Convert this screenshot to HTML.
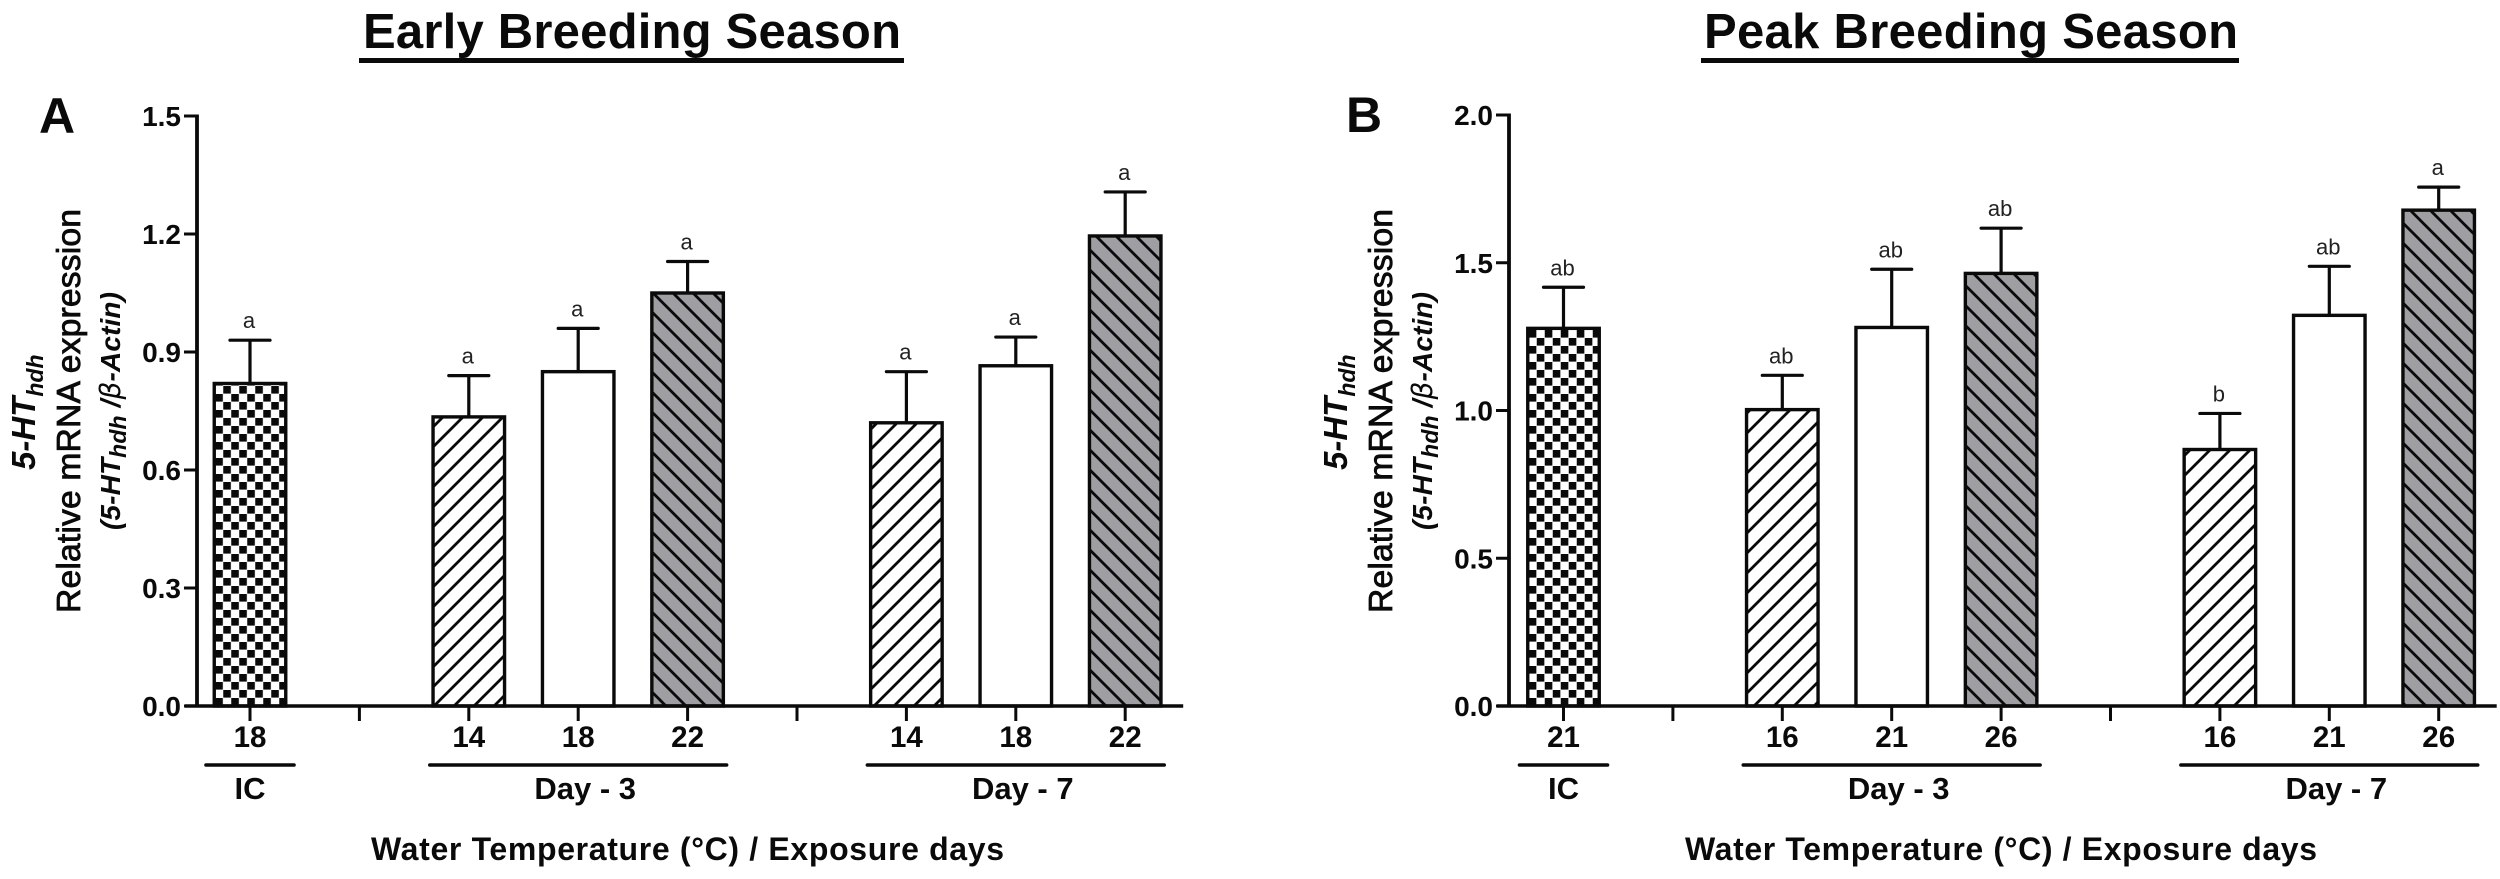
<!DOCTYPE html>
<html lang="en">
<head>
<meta charset="utf-8">
<title>Early and Peak Breeding Season 5-HThdh expression</title>
<style>
html,body{margin:0;padding:0;background:#fff;}
svg{display:block;}
text{font-family:"Liberation Sans",Arial,sans-serif;fill:#0a0a0a;}
.tick{font-size:28px;font-weight:bold;}
.xtick{font-size:29.5px;font-weight:bold;}
.group{font-size:31px;font-weight:bold;}
.xt{font-size:32px;font-weight:bold;}
.title{font-size:49px;font-weight:bold;}
.panel{font-size:50px;font-weight:bold;}
.y1{font-size:33px;font-weight:bold;font-style:italic;}
.y1 .sub{font-size:23px;}
.y2{font-size:33.7px;stroke:#0a0a0a;stroke-width:.8px;}
.y3{font-size:28px;font-weight:bold;font-style:italic;}
.y3 .sub{font-size:23px;}
.greek{font-family:"DejaVu Sans",sans-serif;font-weight:normal;font-style:italic;}
.letter{font-size:22px;fill:#222;}
</style>
</head>
<body>
<svg id="chart" xmlns="http://www.w3.org/2000/svg" width="2500" height="879" viewBox="0 0 2500 879">
<rect width="2500" height="879" fill="#fff"/>
<defs>
<pattern id="fwd" patternUnits="userSpaceOnUse" width="20" height="20">
<path d="M-5,5 L5,-5 M0,20 L20,0 M15,25 L25,15" stroke="#0a0a0a" stroke-width="2.8" fill="none"/>
</pattern>
<pattern id="back" patternUnits="userSpaceOnUse" width="20" height="20">
<rect width="20" height="20" fill="#9f9fa3"/>
<path d="M-5,15 L5,25 M0,0 L20,20 M15,-5 L25,5" stroke="#0a0a0a" stroke-width="2.8" fill="none"/>
</pattern>
</defs>

<text class="title" x="363" y="48" textLength="538">Early Breeding Season</text>
<rect x="359" y="58" width="545" height="5" fill="#0a0a0a"/>
<text class="title" x="1704" y="48" textLength="534">Peak Breeding Season</text>
<rect x="1701" y="58" width="538" height="5" fill="#0a0a0a"/>

<text class="panel" x="39" y="133">A</text>
<text class="panel" x="1346" y="132">B</text>

<g>
<text class="y1" transform="translate(35,470) rotate(-90)">5-HT<tspan class="sub" dy="8">hdh</tspan></text>
<text class="y2" transform="translate(80,613) rotate(-90)" textLength="404">Relative mRNA expression</text>
<text class="y3" transform="translate(120,530) rotate(-90)" textLength="238">(5-HT<tspan class="sub" dy="6">hdh</tspan><tspan dy="-6"> /</tspan><tspan class="greek">β</tspan>-Actin)</text>
</g>
<g>
<text class="y1" transform="translate(1347,470) rotate(-90)">5-HT<tspan class="sub" dy="8">hdh</tspan></text>
<text class="y2" transform="translate(1392,613) rotate(-90)" textLength="404">Relative mRNA expression</text>
<text class="y3" transform="translate(1432,530) rotate(-90)" textLength="238">(5-HT<tspan class="sub" dy="6">hdh</tspan><tspan dy="-6"> /</tspan><tspan class="greek">β</tspan>-Actin)</text>
</g>

<text class="xt" x="371" y="860" textLength="633">Water Temperature (°C) / Exposure days</text>
<text class="xt" x="1685" y="860" textLength="632">Water Temperature (°C) / Exposure days</text>

<g id="panel-a"></g>
<g id="panel-b"></g>
</svg>

<script>
// Panel A data (early breeding season)
const categoriesA = ['18', '', '14', '18', '22', '', '14', '18', '22'];
const valuesA = [0.82, null, 0.735, 0.85, 1.05, null, 0.72, 0.865, 1.195];
const errorTopsA = [0.93, null, 0.84, 0.96, 1.13, null, 0.85, 0.938, 1.307];
const lettersA = ['a', '', 'a', 'a', 'a', '', 'a', 'a', 'a'];
const yTicksA = ['0.0', '0.3', '0.6', '0.9', '1.2', '1.5'];

// Panel B data (peak breeding season)
const categoriesB = ['21', '', '16', '21', '26', '', '16', '21', '26'];
const valuesB = [1.278, null, 1.003, 1.281, 1.464, null, 0.868, 1.322, 1.678];
const errorTopsB = [1.417, null, 1.119, 1.478, 1.617, null, 0.99, 1.488, 1.756];
const lettersB = ['ab', '', 'ab', 'ab', 'ab', '', 'b', 'ab', 'a'];
const yTicksB = ['0.0', '0.5', '1.0', '1.5', '2.0'];

const groupNames = ['IC', 'Day - 3', 'Day - 7'];

const NS = 'http://www.w3.org/2000/svg';
const INK = '#0a0a0a';
const defs = document.querySelector('#chart defs');

function make(parent, tag, attrs, text) {
  const el = document.createElementNS(NS, tag);
  for (const k in attrs) el.setAttribute(k, attrs[k]);
  if (text !== undefined) el.textContent = text;
  parent.appendChild(el);
  return el;
}

function checkerPattern(id, originX) {
  const p = make(defs, 'pattern', {id: id, patternUnits: 'userSpaceOnUse', x: originX, y: 10, width: 16, height: 16});
  make(p, 'rect', {width: 16, height: 16, fill: '#fff'});
  make(p, 'rect', {x: 0, y: 0, width: 7.6, height: 7.6, fill: INK});
  make(p, 'rect', {x: 8, y: 8, width: 7.6, height: 7.6, fill: INK});
}

function drawPanel(cfg) {
  const root = document.getElementById(cfg.id);
  const x = i => cfg.x0 + i * cfg.step;
  const y = v => cfg.yBase - (v / cfg.yMax) * (cfg.yBase - cfg.yTop);
  const halfBar = 35.75, capHalf = 20;
  checkerPattern(cfg.id + '-check', x(0) - halfBar + 1);

  cfg.categories.forEach((cat, i) => {
    const v = cfg.values[i];
    if (v !== null) {
      const slot = i === 0 ? -1 : (i - 2) % 4;
      const fill = slot === -1 ? 'url(#' + cfg.id + '-check)' : slot === 0 ? 'url(#fwd)' : slot === 1 ? '#fff' : 'url(#back)';
      const errLine = make(root, 'line', {x1: x(i), x2: x(i), y1: y(v), y2: y(cfg.errors[i]), stroke: INK, 'stroke-width': 3.2});
      
      
      const cap = make(root, 'line', {x1: x(i) - capHalf, x2: x(i) + capHalf, y1: y(cfg.errors[i]), y2: y(cfg.errors[i]), stroke: INK, 'stroke-width': 3.2, 'stroke-linecap': 'round'});
      
      
      const bar = make(root, 'rect', {x: x(i) - halfBar, y: y(v), width: halfBar * 2, height: cfg.yBase - y(v), fill: fill, stroke: INK, 'stroke-width': 3.4});
      
      
      const letter = make(root, 'text', {class: 'letter', x: x(i) - 1, y: y(cfg.errors[i]) - 12, 'text-anchor': 'middle'}, cfg.letters[i]);
      
      
    }
    const tick = make(root, 'line', {x1: x(i), x2: x(i), y1: cfg.yBase, y2: cfg.yBase + 15, stroke: INK, 'stroke-width': 3});
    
    
    if (cat) {
      const lab = make(root, 'text', {class: 'xtick', x: x(i), y: 747, 'text-anchor': 'middle'}, cat);
      
      
    }
  });

  const yAxis = make(root, 'line', {x1: cfg.axisX, x2: cfg.axisX, y1: cfg.yTop - 1.5, y2: cfg.yBase + 1.5, stroke: INK, 'stroke-width': 3.8});
  
  
  const xAxis = make(root, 'line', {x1: cfg.axisX - 12, x2: x(8) + 58, y1: cfg.yBase, y2: cfg.yBase, stroke: INK, 'stroke-width': 3.4});
  
  

  cfg.yTicks.forEach(t => {
    const py = y(parseFloat(t));
    const tick = make(root, 'line', {x1: cfg.axisX - 13, x2: cfg.axisX, y1: py, y2: py, stroke: INK, 'stroke-width': 3});
    
    
    const lab = make(root, 'text', {class: 'tick', x: cfg.axisX - 16, y: py + 10, 'text-anchor': 'end'}, t);
    
    
  });

  const spans = [[0, 0, 44], [2, 4, 39], [6, 8, 39]];
  spans.forEach((s, g) => {
    const rule = make(root, 'line', {x1: x(s[0]) - s[2], x2: x(s[1]) + s[2], y1: 765, y2: 765, stroke: INK, 'stroke-width': 3.6, 'stroke-linecap': 'round'});
    
    
    const lab = make(root, 'text', {class: 'group', x: (x(s[0]) + x(s[1])) / 2 + 7 * (g > 0 ? 1 : 0), y: 799, 'text-anchor': 'middle'}, groupNames[g]);
    
    
  });
}

drawPanel({id: 'panel-a', categories: categoriesA, values: valuesA, errors: errorTopsA, letters: lettersA, yTicks: yTicksA,
  x0: 250, step: 109.4, axisX: 197, yBase: 706, yTop: 116, yMax: 1.5});
drawPanel({id: 'panel-b', categories: categoriesB, values: valuesB, errors: errorTopsB, letters: lettersB, yTicks: yTicksB,
  x0: 1563.5, step: 109.4, axisX: 1509, yBase: 706, yTop: 115, yMax: 2.0});
</script>
</body>
</html>
